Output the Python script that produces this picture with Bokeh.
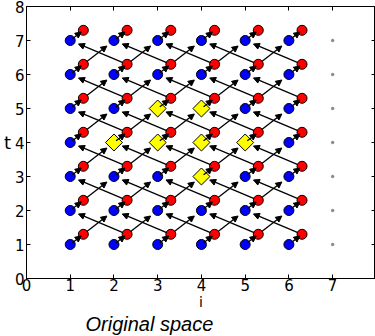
import math
from bokeh.plotting import figure
from bokeh.models import (ColumnDataSource, Arrow, NormalHead, LinearAxis,
                          FixedTicker, Range1d, Title)
from bokeh.embed import file_html
from bokeh.resources import INLINE

# ---- data ----
i_values = [1, 2, 3, 4, 5, 6]
t_values = [1, 2, 3, 4, 5, 6, 7]
red_shift = 0.3                     # red point = blue point shifted by (0.3, 0.3)
diamond_i = [2, 3, 3, 4, 4, 4, 5]
diamond_t = [4, 4, 5, 3, 4, 5, 4]
gray_i = [7, 7, 7, 7, 7, 7, 7]
gray_t = [1, 2, 3, 4, 5, 6, 7]
x_ticks = [0, 1, 2, 3, 4, 5, 6, 7, 8]
y_ticks = [0, 1, 2, 3, 4, 5, 6, 7, 8]

# ---- layout ----
W, H = 375, 336
ML, MB, MT = 24, 58, 6
XMAX, YMAX = 7.98, 8.0
fw, fh = W - ML, H - MB - MT
sx, sy = fw / XMAX, fh / YMAX

p = figure(width=W, height=H, output_backend="svg", toolbar_location=None,
           x_range=Range1d(0, XMAX), y_range=Range1d(0, YMAX),
           min_border_left=ML, min_border_right=0, min_border_top=MT,
           min_border_bottom=MB, x_axis_location="below", y_axis_location="left")
p.grid.visible = False
p.outline_line_color = "black"
p.outline_line_width = 1
p.background_fill_color = "white"
p.border_fill_color = "white"

for ax in (p.xaxis[0], p.yaxis[0]):
    ax.major_tick_in = 4
    ax.major_tick_out = 0
    ax.minor_tick_line_color = None
    ax.major_label_text_font = "DejaVu Sans"
    ax.major_label_text_font_size = "15px"
    ax.major_label_text_line_height = 1.0
    ax.major_label_text_color = "black"
    ax.axis_line_color = "black"
    ax.major_tick_line_color = "black"
    ax.axis_label_text_color = "#000000"
    ax.axis_label_text_font = "DejaVu Sans"
    ax.axis_label_text_font_style = "normal"
    ax.axis_label_text_line_height = 1.0
p.xaxis[0].ticker = FixedTicker(ticks=x_ticks)
p.yaxis[0].ticker = FixedTicker(ticks=y_ticks)
p.xaxis[0].major_label_standoff = 0
p.yaxis[0].major_label_standoff = 2

p.xaxis[0].axis_label = "i"
p.xaxis[0].axis_label_text_font_size = "14px"
p.xaxis[0].axis_label_standoff = 0
p.yaxis[0].axis_label = "t"
p.yaxis[0].axis_label_text_font_size = "18px"
p.yaxis[0].axis_label_orientation = "horizontal"
p.yaxis[0].axis_label_text_baseline = "bottom"
p.yaxis[0].axis_label_standoff = 1

for loc, tk in (("above", x_ticks), ("right", y_ticks)):
    a = LinearAxis(ticker=FixedTicker(ticks=tk), major_tick_in=4, major_tick_out=0,
                   minor_tick_line_color=None, major_label_text_font_size="1px",
                   major_label_overrides={k: "" for k in tk},
                   major_label_standoff=0, axis_line_color="black")
    p.add_layout(a, loc)

p.add_layout(Title(text="Original space", align="left", offset=59, standoff=0,
                   vertical_align="top", text_line_height=1.0,
                   text_font="Liberation Sans", text_font_style="italic",
                   text_font_size="20px", text_color="black"), "below")

# ---- points ----
bx = [i for t in t_values for i in i_values]
by = [t for t in t_values for i in i_values]
rx = [x + red_shift for x in bx]
ry = [y + red_shift for y in by]

p.scatter(gray_i, gray_t, size=2.5, color="#888888", marker="circle")
p.scatter(bx, by, size=10, fill_color="#0000ff", line_color="black", line_width=1)
p.scatter(rx, ry, size=10, fill_color="#ff0000", line_color="black", line_width=1)
p.scatter(diamond_i, diamond_t, marker="square", angle=math.pi / 4, size=12,
          fill_color="#ffff00", line_color="black", line_width=1)

# ---- arrows ----
def shrink(x0, y0, x1, y1, a, b):
    dx, dy = (x1 - x0) * sx, (y1 - y0) * sy
    L = math.hypot(dx, dy)
    ux, uy = dx / L, dy / L
    return (x0 + ux * a / sx, y0 + uy * a / sy, x1 - ux * b / sx, y1 - uy * b / sy)

segs = []
for t in t_values:
    for i in i_values:
        segs.append(shrink(i, t, i + red_shift, t + red_shift, 2.7, 2.7))
        if t + 1 in t_values:
            if i + 1 in i_values:
                segs.append(shrink(i + red_shift, t + red_shift, i + 1, t + 1, 4.5, 9))
            if i - 1 in i_values:
                segs.append(shrink(i + red_shift, t + red_shift, i - 1, t + 1, 4.5, 9))

src = ColumnDataSource(dict(x0=[s[0] for s in segs], y0=[s[1] for s in segs],
                            x1=[s[2] for s in segs], y1=[s[3] for s in segs]))
p.add_layout(Arrow(end=NormalHead(size=6, fill_color="black", line_color="black", line_width=1),
                   x_start="x0", y_start="y0", x_end="x1", y_end="y1",
                   line_color="black", line_width=1.3, source=src))

open("out.html", "w").write(file_html(p, INLINE))
